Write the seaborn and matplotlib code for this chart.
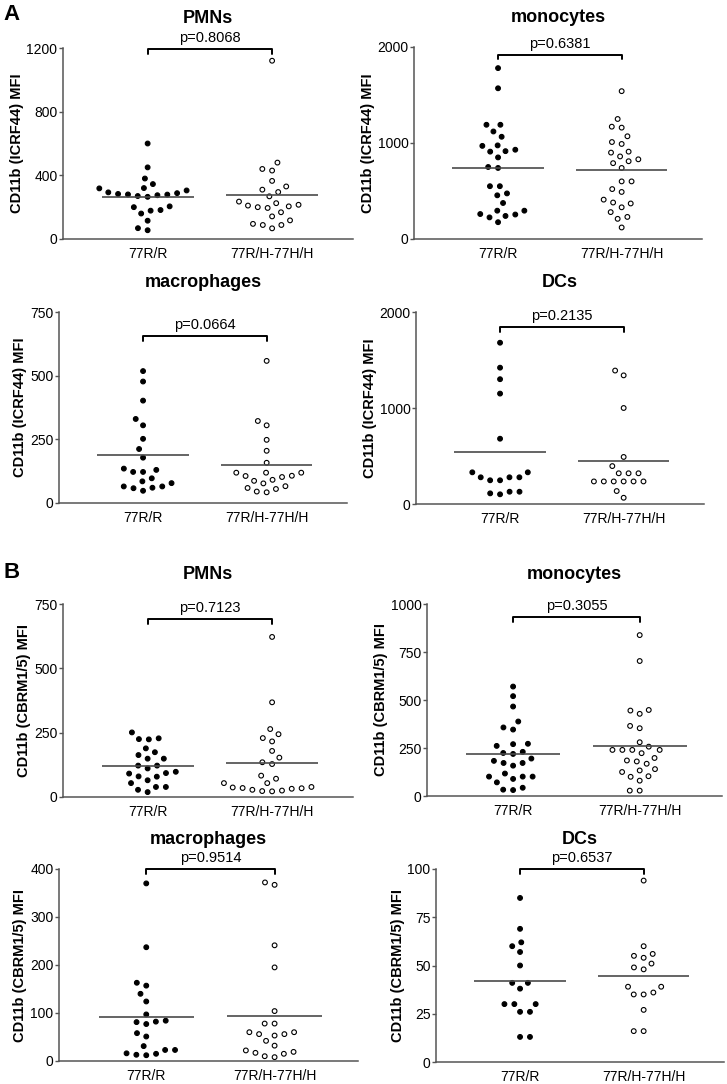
import numpy as np
import pandas as pd
import seaborn as sns
import matplotlib
matplotlib.use('Agg')
import matplotlib.pyplot as plt
import matplotlib.transforms as mtransforms

groups = ['77R/R', '77R/H-77H/H']

# A: CD11b (ICRF44) MFI
a_pmn_rr = [600, 450, 380, 345, 320, 318, 305, 293, 288, 283, 280, 279, 275, 270, 265,
            205, 200, 182, 178, 160, 115, 68, 55]
a_pmn_rh = [1120, 480, 440, 430, 365, 330, 310, 295, 268, 235, 225, 215, 210, 205, 200,
            195, 168, 142, 117, 95, 88, 88, 67]
a_mono_rr = [1780, 1570, 1190, 1190, 1120, 1065, 970, 975, 930, 910, 915, 850, 750, 740,
             550, 550, 475, 455, 375, 295, 295, 260, 255, 240, 225, 175]
a_mono_rh = [1540, 1250, 1160, 1170, 1070, 1010, 990, 910, 900, 860, 830, 810, 790, 740,
             600, 600, 520, 490, 410, 380, 370, 330, 280, 230, 210, 120]
a_mac_rr = [518, 477, 402, 330, 305, 252, 212, 178, 130, 122, 122, 135, 97, 85, 65, 60,
            48, 58, 65, 78]
a_mac_rh = [558, 322, 305, 248, 205, 158, 107, 102, 119, 119, 119, 106, 87, 77, 91, 66,
            55, 42, 45, 59]
a_dc_rr = [1680, 1420, 1300, 1150, 680, 330, 278, 247, 247, 278, 278, 330, 128, 101, 111, 128]
a_dc_rh = [1390, 1340, 1000, 490, 395, 320, 320, 320, 235, 235, 235, 235, 235, 235, 135, 65]

# B: CD11b (CBRM1/5) MFI
b_pmn_rr = [251, 225, 224, 228, 189, 174, 163, 149, 149, 122, 122, 111, 93, 91, 98, 80,
            79, 65, 54, 39, 39, 28, 19]
b_pmn_rh = [622, 368, 264, 244, 229, 216, 179, 153, 128, 135, 83, 71, 54, 54, 39, 35, 34,
            28, 23, 22, 25, 32, 37]
b_mono_rr = [570, 520, 466, 388, 357, 346, 272, 270, 261, 230, 224, 219, 195, 183, 172,
             172, 158, 117, 101, 101, 101, 89, 71, 43, 31, 33]
b_mono_rh = [838, 703, 448, 445, 428, 365, 353, 280, 257, 240, 240, 240, 240, 223, 198,
             185, 180, 168, 140, 133, 125, 103, 100, 80, 28, 28]
b_mac_rr = [370, 237, 163, 157, 140, 124, 97, 84, 81, 77, 82, 58, 51, 31, 23, 15, 12, 13, 16, 23]
b_mac_rh = [372, 367, 241, 195, 104, 78, 78, 60, 56, 53, 56, 60, 42, 32, 19, 15, 8, 10, 17, 22]
b_dc_rr = [85, 69, 62, 60, 57, 50, 41, 41, 38, 30, 30, 30, 26, 26, 13, 13]
b_dc_rh = [94, 60, 56, 55, 54, 51, 49, 48, 39, 39, 36, 35, 35, 27, 16, 16]

titles = ['PMNs', 'monocytes', 'macrophages', 'DCs'] * 2
pvals = ['p=0.8068', 'p=0.6381', 'p=0.0664', 'p=0.2135',
         'p=0.7123', 'p=0.3055', 'p=0.9514', 'p=0.6537']
ylabels = ['CD11b (ICRF44) MFI'] * 4 + ['CD11b (CBRM1/5) MFI'] * 4
yticks = [[0, 400, 800, 1200], [0, 1000, 2000], [0, 250, 500, 750], [0, 1000, 2000],
          [0, 250, 500, 750], [0, 250, 500, 750, 1000], [0, 100, 200, 300, 400],
          [0, 25, 50, 75, 100]]
values = [(a_pmn_rr, a_pmn_rh), (a_mono_rr, a_mono_rh), (a_mac_rr, a_mac_rh), (a_dc_rr, a_dc_rh),
          (b_pmn_rr, b_pmn_rh), (b_mono_rr, b_mono_rh), (b_mac_rr, b_mac_rh), (b_dc_rr, b_dc_rh)]

# layout (pixels: left, right, top, bottom) and bracket height (axes fraction)
W, H = 727, 1084
boxes = [(63, 353, 48, 239), (414, 702, 47, 239), (59, 347, 312, 503), (416, 704, 312, 504),
         (63, 353, 604, 797), (427, 722, 604, 796), (59, 358, 869, 1061), (436, 724, 869, 1062)]
bracket_y = [0.995, 0.96, 0.875, 0.92, 0.92, 0.93, 1.0, 1.0]

sns.set_style('ticks')
plt.rcParams['font.family'] = ['Liberation Sans', 'DejaVu Sans']
plt.rcParams['text.color'] = 'black'
plt.rcParams['axes.labelcolor'] = 'black'
plt.rcParams['xtick.color'] = 'black'
plt.rcParams['ytick.color'] = 'black'

fig = plt.figure(figsize=(W / 100, H / 100), dpi=100)
pal = {groups[0]: 'black', groups[1]: 'white'}
axes = []

for i, (rr, rh) in enumerate(values):
    l, r, t, b = boxes[i]
    ax = fig.add_axes([l / W, (H - b) / H, (r - l) / W, (b - t) / H])
    axes.append(ax)
    df = pd.DataFrame({'group': [groups[0]] * len(rr) + [groups[1]] * len(rh),
                       'mfi': list(rr) + list(rh)})
    sns.swarmplot(data=df, x='group', y='mfi', hue='group', order=groups, hue_order=groups,
                  palette=pal, size=6.0, edgecolor='black', linewidth=0.8,
                  legend=False, ax=ax, zorder=2)
    for j, vals in enumerate((rr, rh)):
        ax.hlines(np.mean(vals), j - 0.37, j + 0.37, color='#4a4a4a', lw=1.2, zorder=3)

    ax.set_xlim(-0.68, 1.65)
    ax.set_ylim(0, yticks[i][-1])
    ax.set_yticks(yticks[i])
    ax.set_xlabel('')
    ax.set_ylabel(ylabels[i], fontsize=10.5, fontweight='bold', labelpad=2)
    ax.set_title(titles[i], fontsize=13, fontweight='bold', pad=18)
    ax.tick_params(axis='y', labelsize=10, length=3, width=1, color='#555555', pad=1)
    ax.tick_params(axis='x', labelsize=10, length=0, pad=6)
    sns.despine(ax=ax)
    for s in ('left', 'bottom'):
        ax.spines[s].set_color('#555555')
        ax.spines[s].set_linewidth(1.1)

    trans = mtransforms.blended_transform_factory(ax.transData, ax.transAxes)
    by = bracket_y[i]
    ax.plot([0, 0, 1, 1], [by - 0.025, by, by, by - 0.025], transform=trans,
            color='black', lw=1.4, clip_on=False)
    ax.annotate(pvals[i], xy=(0.5, by), xycoords=trans, xytext=(0, 3),
                textcoords='offset points', ha='center', va='bottom', fontsize=10.5)

fig.text(12 / W, 1 - 14 / H, 'A', fontsize=16, fontweight='bold', ha='center', va='center')
fig.text(12 / W, 1 - 572 / H, 'B', fontsize=16, fontweight='bold', ha='center', va='center')

# lay the swarms out with wider spacing, then shrink the markers
fig.canvas.draw()
for ax in axes:
    for coll in ax.collections:
        if 'draw' in coll.__dict__:
            del coll.draw
            coll.set_sizes([3.4 ** 2])

fig.savefig('out.png', dpi=100)
